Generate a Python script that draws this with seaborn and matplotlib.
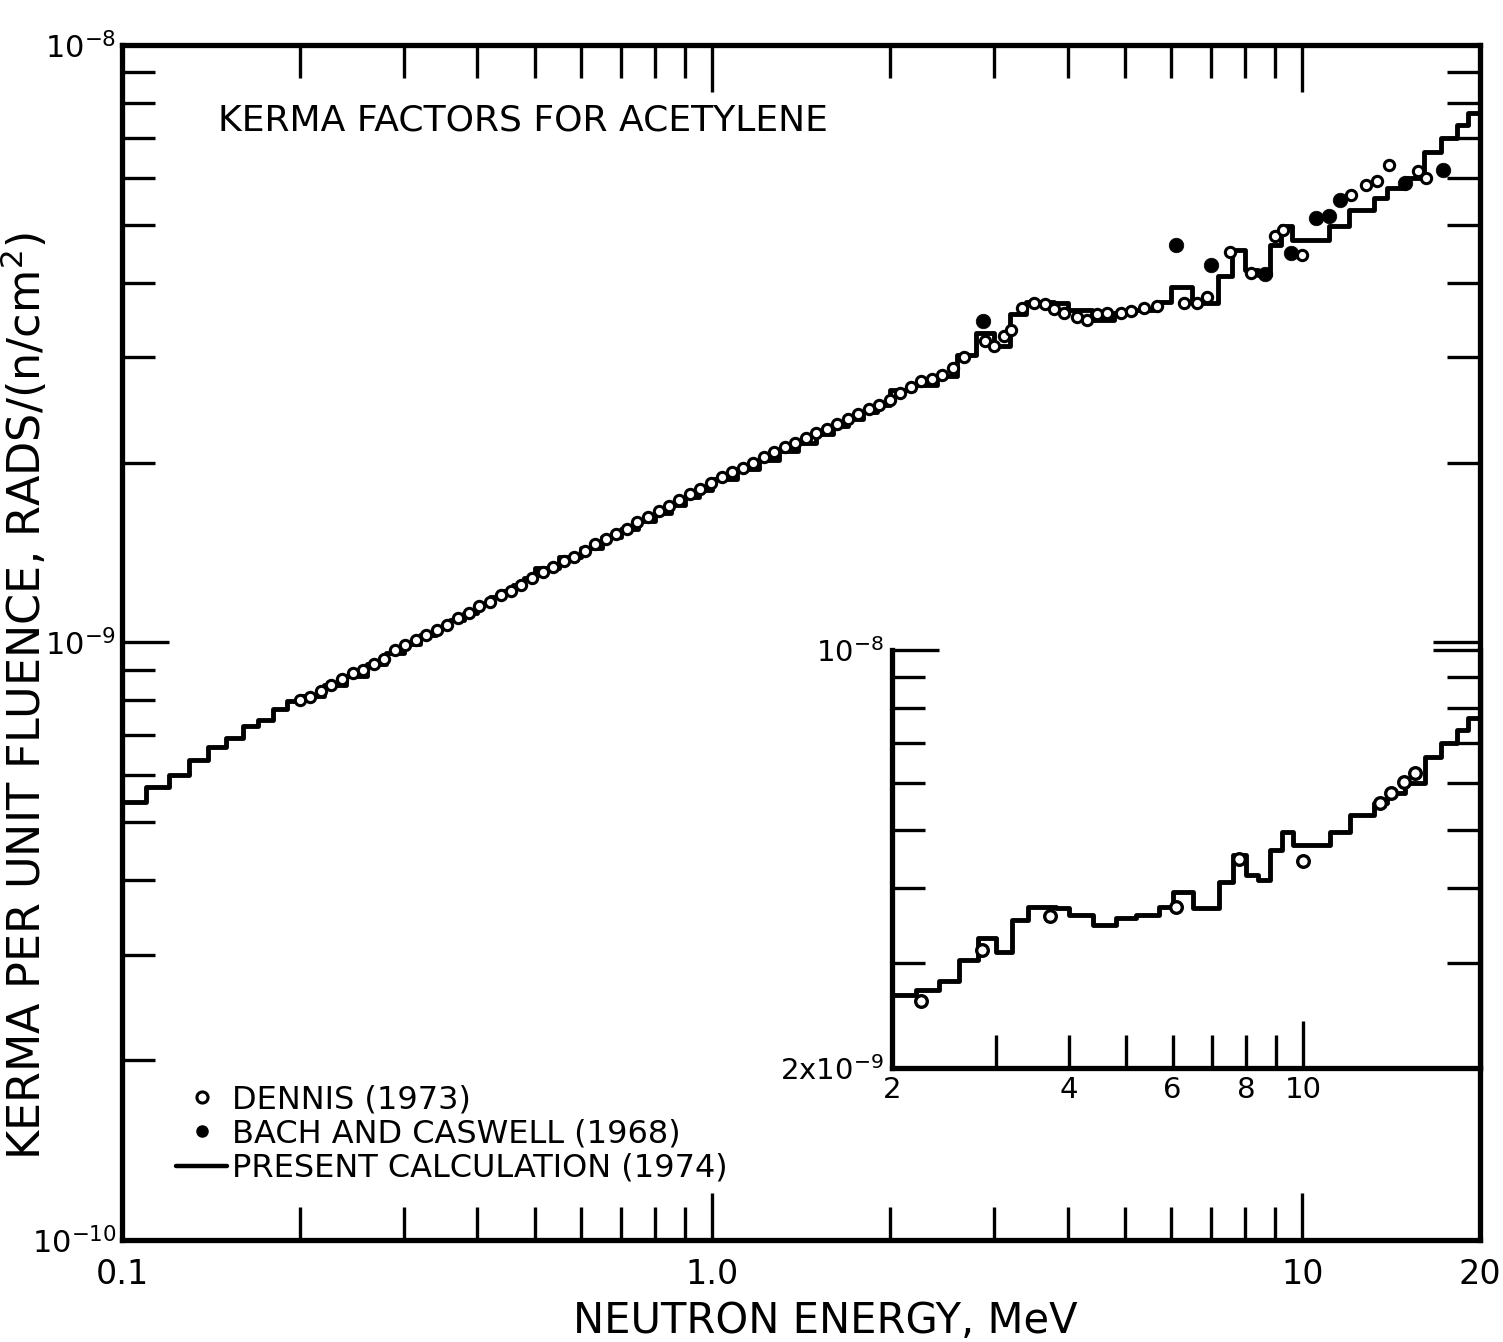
import numpy as np
import pandas as pd
import seaborn as sns
import matplotlib.pyplot as plt
from matplotlib.lines import Line2D
from matplotlib.ticker import FixedLocator, FixedFormatter, NullFormatter, LogLocator

# present calculation (1974): group boundaries (MeV) and kerma per group (1e-9 rad per n/cm2)
calc_edges = [0.10, 0.11, 0.12, 0.13, 0.14, 0.15, 0.16, 0.17, 0.18, 0.19, 0.20,
              0.22, 0.24, 0.26, 0.28, 0.30, 0.32, 0.34, 0.36, 0.38, 0.40,
              0.42, 0.44, 0.46, 0.48, 0.50,
              0.55, 0.60, 0.65, 0.70, 0.75, 0.80, 0.85, 0.90, 0.95, 1.00,
              1.1, 1.2, 1.3, 1.4, 1.5, 1.6, 1.7, 1.8, 1.9, 2.0,
              2.2, 2.4, 2.6, 2.8, 3.0, 3.2, 3.4, 3.8, 4.0, 4.4, 4.8, 5.2, 5.7,
              6.0, 6.5, 7.2, 7.6, 8.0, 8.4, 8.8, 9.2, 9.6, 11.1, 12.0, 13.2,
              13.9, 14.9, 16.1, 17.2, 18.3, 19.1, 20.0]
calc_kerma = [0.540, 0.572, 0.601, 0.635, 0.668, 0.691, 0.724, 0.743, 0.775, 0.797,
              0.815, 0.850, 0.880, 0.920, 0.960, 0.995, 1.03, 1.06, 1.09, 1.12,
              1.16, 1.19, 1.22, 1.25, 1.28,
              1.33, 1.39, 1.44, 1.50, 1.55, 1.60, 1.65, 1.70, 1.75, 1.80,
              1.88, 1.95, 2.02, 2.09, 2.16, 2.23, 2.30, 2.37, 2.43, 2.50,
              2.65, 2.70, 2.79, 3.03, 3.30, 3.13, 3.54, 3.72, 3.70, 3.60, 3.47,
              3.56, 3.60, 3.72, 3.94, 3.70, 4.10, 4.54, 4.20, 4.12, 4.63, 4.97,
              4.72, 4.97, 5.30, 5.54, 5.76, 5.98, 6.63, 6.98, 7.35, 7.69]

# Dennis (1973), open circles
dennis_e = [0.200, 0.208, 0.217, 0.226, 0.236, 0.246, 0.256, 0.267, 0.278, 0.290,
            0.302, 0.315, 0.328, 0.342, 0.356, 0.371, 0.387, 0.403, 0.420, 0.438,
            0.456, 0.475, 0.495, 0.516, 0.538, 0.560, 0.584, 0.608, 0.634, 0.660,
            0.688, 0.717, 0.747, 0.778, 0.811, 0.845, 0.880, 0.917, 0.955, 0.995,
            1.037, 1.080, 1.126, 1.173, 1.222, 1.273, 1.327, 1.382, 1.440, 1.500,
            1.563, 1.629, 1.697, 1.768, 1.842, 1.920, 2.000, 2.084, 2.171, 2.262,
            2.357, 2.456, 2.559, 2.666, 2.90, 3.00, 3.12, 3.21, 3.35, 3.51,
            3.66, 3.80, 3.95, 4.15, 4.32, 4.49, 4.66, 4.93, 5.12, 5.39,
            5.67, 6.30, 6.62, 6.88, 7.55, 8.20, 9.00, 9.27, 10.0, 12.1,
            12.8, 13.4, 14.0, 15.7, 16.2]
dennis_k = [0.80, 0.81, 0.83, 0.85, 0.87, 0.89, 0.90, 0.92, 0.94, 0.97,
            0.99, 1.01, 1.03, 1.05, 1.07, 1.10, 1.12, 1.15, 1.17, 1.20,
            1.22, 1.25, 1.28, 1.31, 1.34, 1.37, 1.39, 1.42, 1.46, 1.49,
            1.52, 1.55, 1.59, 1.62, 1.66, 1.69, 1.73, 1.77, 1.81, 1.85,
            1.89, 1.93, 1.96, 2.00, 2.04, 2.08, 2.12, 2.16, 2.20, 2.24,
            2.28, 2.32, 2.37, 2.41, 2.46, 2.50, 2.55, 2.62, 2.68, 2.74,
            2.76, 2.80, 2.88, 3.00, 3.20, 3.14, 3.26, 3.34, 3.63, 3.70,
            3.68, 3.61, 3.56, 3.50, 3.47, 3.54, 3.56, 3.56, 3.59, 3.63,
            3.66, 3.70, 3.70, 3.78, 4.50, 4.15, 4.79, 4.90, 4.45, 5.61,
            5.83, 5.92, 6.30, 6.16, 6.00]

# Bach and Caswell (1968), filled circles
bach_e = [2.88, 6.10, 6.99, 8.66, 9.58, 10.56, 11.1, 11.6, 14.9, 17.3]
bach_k = [3.45, 4.63, 4.29, 4.13, 4.49, 5.14, 5.17, 5.51, 5.88, 6.18]

# inset (2-20 MeV), Dennis points
inset_e = [2.24, 2.85, 3.71, 6.07, 7.78, 10.0, 13.5, 14.1, 14.85, 15.5]
inset_k = [2.59, 3.15, 3.59, 3.72, 4.47, 4.44, 5.55, 5.76, 6.01, 6.23]

assert len(calc_edges) == len(calc_kerma) + 1

sns.set_style("ticks")
plt.rcParams['font.family'] = ['DejaVu Sans']
plt.rcParams['mathtext.default'] = 'regular'
for key in ['text.color', 'axes.labelcolor', 'axes.edgecolor', 'xtick.color', 'ytick.color']:
    plt.rcParams[key] = 'black'

calc = pd.DataFrame({"E": calc_edges,
                     "K": np.array(calc_kerma + [calc_kerma[-1]]) * 1e-9})
dennis = pd.DataFrame({"E": dennis_e, "K": np.array(dennis_k) * 1e-9})
bach = pd.DataFrame({"E": bach_e, "K": np.array(bach_k) * 1e-9})
ins = pd.DataFrame({"E": inset_e, "K": np.array(inset_k) * 1e-9})

fig = plt.figure(figsize=(15.03, 13.42), dpi=100)
ax = fig.add_axes([0.0812, 0.0760, 0.9035, 0.8905])
ax.set_xscale('log')
ax.set_yscale('log')

sns.lineplot(data=calc, x="E", y="K", drawstyle="steps-post", color="black",
             lw=3.5, estimator=None, sort=False, ax=ax)
sns.scatterplot(data=dennis, x="E", y="K", marker='o', s=55, color="white",
                edgecolor="black", linewidth=2.2, ax=ax, zorder=3)
sns.scatterplot(data=bach, x="E", y="K", marker='o', s=110, color="black",
                edgecolor="black", linewidth=0.5, ax=ax, zorder=4)

ax.set_xlim(0.1, 20)
ax.set_ylim(1e-10, 1e-8)
ax.xaxis.set_major_locator(FixedLocator([0.1, 1, 10, 20]))
ax.xaxis.set_major_formatter(FixedFormatter(["0.1", "1.0", "10", "20"]))
ax.xaxis.set_minor_locator(LogLocator(subs=np.arange(2, 10)))
ax.xaxis.set_minor_formatter(NullFormatter())
ax.yaxis.set_major_locator(FixedLocator([1e-10, 1e-9, 1e-8]))
ax.yaxis.set_major_formatter(FixedFormatter(["$10^{-10}$", "$10^{-9}$", "$10^{-8}$"]))
ax.yaxis.set_minor_locator(LogLocator(subs=np.arange(2, 10)))
ax.yaxis.set_minor_formatter(NullFormatter())
ax.tick_params(which='both', direction='in', top=True, right=True, width=2.4,
               color='black')
ax.tick_params(which='major', length=34)
ax.tick_params(which='minor', length=24)
ax.tick_params(axis='x', which='major', labelsize=24, pad=13)
ax.tick_params(axis='y', which='major', labelsize=22, pad=4)
for s in ax.spines.values():
    s.set_linewidth(3.8)

ax.set_xlabel("NEUTRON ENERGY, MeV", fontsize=30)
ax.xaxis.set_label_coords(0.518, -0.05)
ax.set_ylabel("KERMA PER UNIT FLUENCE, RADS/(n/cm$^2$)", fontsize=32)
ax.yaxis.set_label_coords(-0.053, 0.455)

ax.text(0.0707, 0.937, "KERMA FACTORS FOR ACETYLENE", transform=ax.transAxes,
        fontsize=26, ha='left', va='center')

handles = [
    Line2D([], [], marker='o', ls='none', mfc='white', mec='black', mew=2.2, ms=8,
           label='DENNIS (1973)'),
    Line2D([], [], marker='o', ls='none', color='black', ms=8,
           label='BACH AND CASWELL (1968)'),
    Line2D([], [], color='black', lw=3.2, label='PRESENT CALCULATION (1974)'),
]
ax.legend(handles=handles, loc='lower left', bbox_to_anchor=(0.040, 0.047),
          frameon=False, fontsize=23, handlelength=1.6, handletextpad=0.15,
          labelspacing=0.1, borderpad=0, borderaxespad=0)

# inset, 2-20 MeV
ax_in = fig.add_axes([0.5935, 0.2042, 0.3912, 0.3115])
ax_in.set_xscale('log')
ax_in.set_yscale('log')
ax_in.patch.set_facecolor('white')
hi = calc[calc["E"] >= 2.0]
sns.lineplot(data=hi, x="E", y="K", drawstyle="steps-post", color="black",
             lw=3.5, estimator=None, sort=False, ax=ax_in)
sns.scatterplot(data=ins, x="E", y="K", marker='o', s=70, color="white",
                edgecolor="black", linewidth=2.4, ax=ax_in, zorder=3)
ax_in.set_xlim(2, 20)
ax_in.set_ylim(2e-9, 1e-8)
ax_in.xaxis.set_major_locator(FixedLocator([2, 4, 6, 8, 10]))
ax_in.xaxis.set_major_formatter(FixedFormatter(["2", "4", "6", "8", "10"]))
ax_in.xaxis.set_minor_locator(FixedLocator([3, 5, 7, 9]))
ax_in.xaxis.set_minor_formatter(NullFormatter())
ax_in.yaxis.set_major_locator(FixedLocator([2e-9, 1e-8]))
ax_in.yaxis.set_major_formatter(FixedFormatter(["2x$10^{-9}$", "$10^{-8}$"]))
ax_in.yaxis.set_minor_locator(FixedLocator([3e-9, 4e-9, 5e-9, 6e-9, 7e-9, 8e-9, 9e-9]))
ax_in.yaxis.set_minor_formatter(NullFormatter())
ax_in.tick_params(which='both', direction='in', top=False, right=True, width=2.4,
                  color='black', labelsize=21)
ax_in.tick_params(which='major', length=24, pad=6)
ax_in.tick_params(which='minor', length=24)
ax_in.xaxis.get_major_ticks()[-1].tick1line.set_markersize(34)
for t in ax_in.yaxis.get_major_ticks():
    t.tick1line.set_markersize(34)
    t.tick2line.set_markersize(34)
ax_in.spines['top'].set_visible(False)
for s in ['left', 'bottom', 'right']:
    ax_in.spines[s].set_linewidth(3.8)
ax_in.set_xlabel("")
ax_in.set_ylabel("")

fig.savefig("out.png", dpi=100)
